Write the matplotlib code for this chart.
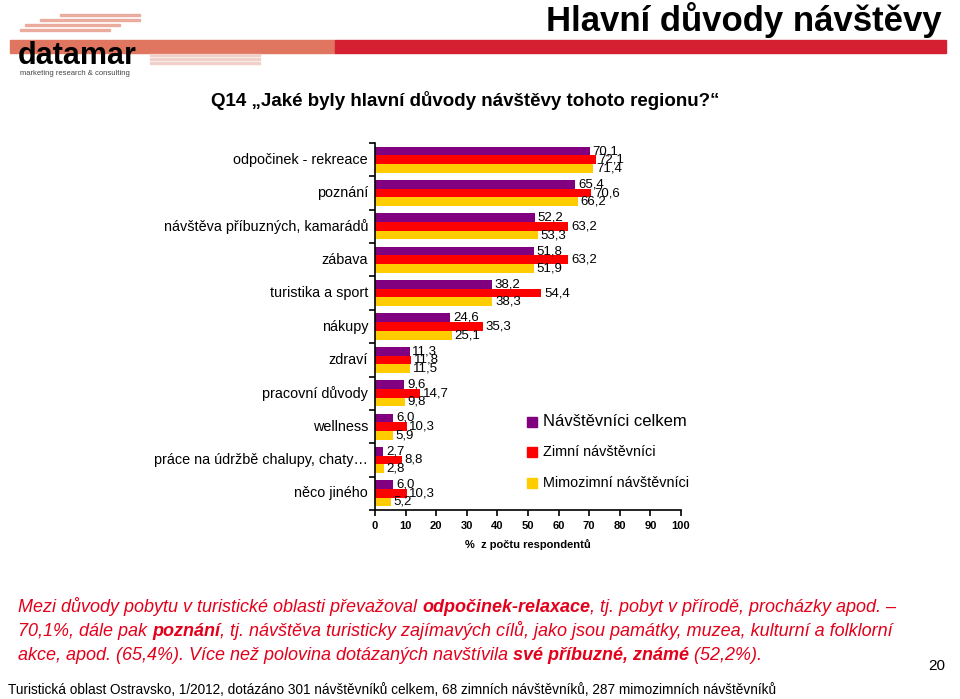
import matplotlib
matplotlib.use("Agg")
import matplotlib.pyplot as plt
from matplotlib.patches import Rectangle

plt.rcParams['font.family'] = ['Liberation Sans', 'DejaVu Sans']

# ---------------- data ----------------
categories = ["odpočinek - rekreace", "poznání", "návštěva příbuzných, kamarádů",
              "zábava", "turistika a sport", "nákupy", "zdraví", "pracovní důvody",
              "wellness", "práce na údržbě chalupy, chaty…", "něco jiného"]
celkem = [70.1, 65.4, 52.2, 51.8, 38.2, 24.6, 11.3, 9.6, 6.0, 2.7, 6.0]
zimni = [72.1, 70.6, 63.2, 63.2, 54.4, 35.3, 11.8, 14.7, 10.3, 8.8, 10.3]
mimozimni = [71.4, 66.2, 53.3, 51.9, 38.3, 25.1, 11.5, 9.8, 5.9, 2.8, 5.2]
series_names = ["Návštěvníci celkem", "Zimní návštěvníci", "Mimozimní návštěvníci"]
colors = ["#800080", "#FF0000", "#FFCC00"]
xticks = list(range(0, 101, 10))

W, H = 960, 699
fig = plt.figure(figsize=(W / 100, H / 100), dpi=100)

def fx(px):
    return px / W

def fy(py):
    return 1 - py / H

# ---------------- header ----------------
# logo decoration
for x0, x1, y in [(60, 140, 14), (40, 140, 19), (25, 120, 24), (20, 110, 29)]:
    fig.patches.append(Rectangle((fx(x0), fy(y + 2)), fx(x1 - x0), 2 / H,
                                 transform=fig.transFigure, color="#E8A090", alpha=0.8))
fig.patches.append(Rectangle((fx(10), fy(53)), fx(325), 13 / H,
                             transform=fig.transFigure, color="#E07560"))
fig.patches.append(Rectangle((fx(335), fy(53)), fx(611), 13 / H,
                             transform=fig.transFigure, color="#D42030"))
for y in (56, 60, 64):
    fig.patches.append(Rectangle((fx(150), fy(y)), fx(110), 1.5 / H,
                                 transform=fig.transFigure, color="#F0D0C8"))
fig.text(fx(18), fy(64), "datamar", fontsize=22, fontweight="bold", color="black",
         ha="left", va="baseline")
fig.text(fx(20), fy(75), "marketing research & consulting", fontsize=5.5,
         color="#444444", ha="left", va="baseline")

fig.text(fx(942), fy(20), "Hlavní důvody návštěvy", fontsize=25, fontweight="bold",
         ha="right", va="center")
fig.text(fx(465), fy(101), "Q14 \u201eJaké byly hlavní důvody návštěvy tohoto regionu?\u201c",
         fontsize=13.5, fontweight="bold", ha="center", va="center")

# ---------------- chart ----------------
ax = fig.add_axes([fx(375), fy(510), fx(681) - fx(375), (510 - 143) / H])
n = len(categories)
pos = list(range(n))
bh = 0.26
for k, (vals, col) in enumerate(zip([celkem, zimni, mimozimni], colors)):
    ys = [p + (k - 1) * bh for p in pos]
    ax.barh(ys, vals, height=bh, color=col, edgecolor="none")
    for y, v in zip(ys, vals):
        ax.annotate(f"{v:.1f}".replace(".", ","), xy=(v, y), xytext=(2, 0),
                    textcoords="offset points", ha="left", va="center",
                    fontsize=9.5, color="black")

ax.set_xlim(0, 100)
ax.set_ylim(n - 0.5, -0.5)
ax.set_xticks(xticks)
ax.set_xticklabels([str(t) for t in xticks], fontsize=8, fontweight="bold")
ax.set_yticks([p - 0.5 for p in pos] + [n - 0.5])
ax.set_yticklabels([])
ax.tick_params(axis="both", direction="out", length=4, width=1.2, color="black")
ax.tick_params(axis="x", pad=4)
for s in ("top", "right"):
    ax.spines[s].set_visible(False)
for s in ("left", "bottom"):
    ax.spines[s].set_linewidth(1.2)
ax.set_xlabel("%  z počtu respondentů", fontsize=8, fontweight="bold", labelpad=6)
ax.patch.set_alpha(0)

for p, c in zip(pos, categories):
    ax.annotate(c, xy=(0, p), xycoords=("axes fraction", "data"), xytext=(-5, 0),
                textcoords="offset points", ha="right", va="center", fontsize=10.4)

# legend
leg_y = [422, 452, 483]
leg_sizes = [12, 10.4, 10.4]
for name, col, y, fs in zip(series_names, colors, leg_y, leg_sizes):
    fig.patches.append(Rectangle((fx(527), fy(y + 5)), 10 / W, 10 / H,
                                 transform=fig.transFigure, color=col))
    fig.text(fx(543), fy(y), name, fontsize=fs, ha="left", va="center")

# ---------------- commentary ----------------
red = "#E3001B"
fs_c = 13
lines = [
    [("Mezi důvody pobytu v turistické oblasti převažoval ", "normal"),
     ("odpočinek-relaxace", "bold"),
     (", tj. pobyt v přírodě, procházky apod. \u2013", "normal")],
    [("70,1%, dále pak ", "normal"), ("poznání", "bold"),
     (", tj. návštěva turisticky zajímavých cílů, jako jsou památky, muzea, kulturní a folklorní", "normal")],
    [("akce, apod. (65,4%). Více než polovina dotázaných navštívila ", "normal"),
     ("své příbuzné, známé", "bold"), (" (52,2%).", "normal")],
]
line_y = [607, 631, 655]
for segs, y in zip(lines, line_y):
    last = None
    for txt, w in segs:
        if last is None:
            last = fig.text(fx(18), fy(y), txt, fontsize=fs_c, fontstyle="italic",
                            fontweight=w, color=red, ha="left", va="center")
        else:
            last = plt.annotate(txt, xy=(1, 0.5), xycoords=last, ha="left", va="center",
                                fontsize=fs_c, fontstyle="italic", fontweight=w, color=red,
                                annotation_clip=False)

fig.text(fx(945), fy(666), "20", fontsize=11, ha="right", va="center")
fig.text(fx(8), fy(690),
         "Turistická oblast Ostravsko, 1/2012, dotázáno 301 návštěvníků celkem, 68 zimních "
         "návštěvníků, 287 mimozimních návštěvníků",
         fontsize=9.8, ha="left", va="center")

fig.savefig("out.png", dpi=100)
